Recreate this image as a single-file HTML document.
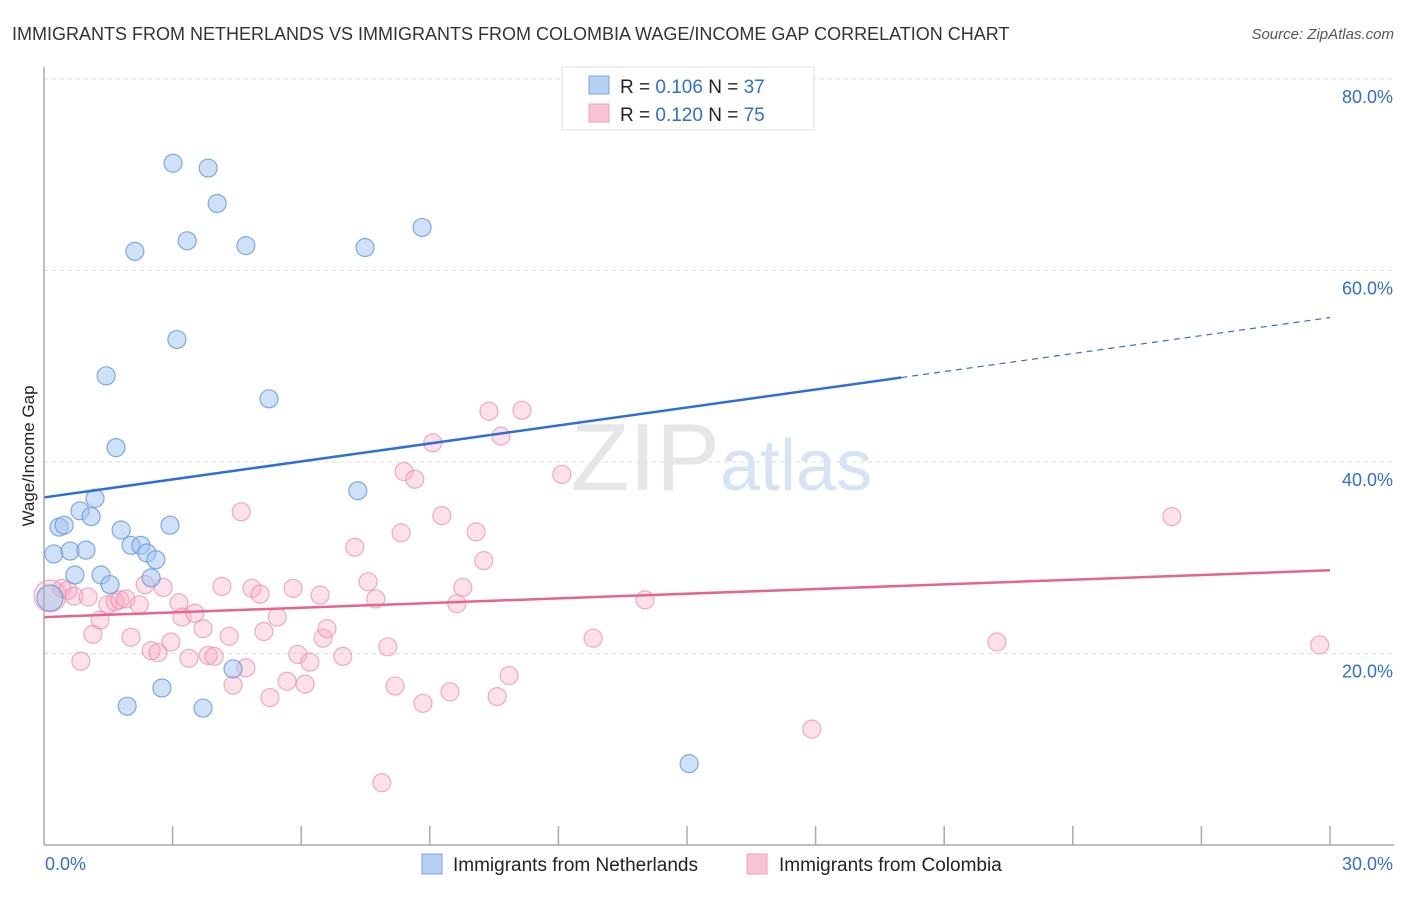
<!DOCTYPE html>
<html><head><meta charset="utf-8"><style>
body{margin:0;background:#fff;font-family:"Liberation Sans",sans-serif;}
svg text{font-family:"Liberation Sans",sans-serif;}
</style></head><body>
<svg id="chart" width="1406" height="892" xmlns="http://www.w3.org/2000/svg">
<text x="12" y="40" font-size="18" fill="#333">IMMIGRANTS FROM NETHERLANDS VS IMMIGRANTS FROM COLOMBIA WAGE/INCOME GAP CORRELATION CHART</text>
<text x="1394" y="39" font-size="15" fill="#555" text-anchor="end" font-style="italic">Source: ZipAtlas.com</text>
<g id="grid"></g>
<text x="720" y="490" font-size="96" fill="#e6e6e6" text-anchor="end" font-family="Liberation Serif">ZIP</text>
<text x="720" y="490" font-size="72" fill="#d5e3f5">atlas</text>
<g id="pts"></g>
<g id="lines"></g>
<g id="axes"></g>
<text transform="translate(34,456) rotate(-90)" font-size="17" fill="#222" text-anchor="middle">Wage/Income Gap</text>
<g>
<rect x="562" y="67" width="252" height="63" fill="#fff" stroke="#ddd"/>
<rect x="589" y="76" width="20" height="18" fill="#b6d1f5" stroke="#7aa6e0"/>
<rect x="589" y="104" width="20" height="18" fill="#f8c4d4" stroke="#f0a0b8"/>
<text x="620" y="93" font-size="19" fill="#222">R = <tspan fill="#2e6fd6">0.106</tspan>   N = <tspan fill="#2e6fd6">37</tspan></text>
<text x="620" y="121" font-size="19" fill="#222">R = <tspan fill="#2e6fd6">0.120</tspan>   N = <tspan fill="#2e6fd6">75</tspan></text>
</g>
<g>
<rect x="422" y="854" width="20" height="20" fill="#b6d1f5" stroke="#7aa6e0"/>
<text x="453" y="871" font-size="19" fill="#222">Immigrants from Netherlands</text>
<rect x="747" y="854" width="20" height="20" fill="#f8c4d4" stroke="#f0a0b8"/>
<text x="779" y="871" font-size="19" fill="#222">Immigrants from Colombia</text>
</g>
</svg>
<script>
const blueX=[3.01,3.83,4.04,2.12,3.34,4.71,7.49,8.82,3.10,1.45,5.25,1.68,7.32,1.19,0.84,1.10,0.35,0.47,1.80,2.94,0.23,0.61,0.98,2.03,2.26,2.40,2.61,0.72,1.33,1.54,2.50,0.14,4.41,2.75,1.94,3.71,15.05];
const blueY=[71.2,70.7,67.0,62.0,63.1,62.6,62.4,64.5,52.8,49.0,46.6,41.5,37.0,36.2,34.9,34.3,33.2,33.4,32.9,33.4,30.4,30.7,30.8,31.3,31.3,30.5,29.8,28.2,28.2,27.2,27.9,25.8,18.4,16.4,14.5,14.3,8.5];
const pinkX=[0.14,0.42,0.56,0.70,1.03,1.14,0.86,1.31,1.49,1.66,1.77,1.91,2.22,2.36,2.03,2.50,2.66,2.78,2.96,3.15,3.22,3.38,3.52,3.71,3.83,3.97,4.15,4.32,4.41,4.60,4.71,4.85,5.04,5.13,5.27,5.44,5.67,5.81,5.92,6.09,6.20,6.44,6.51,6.60,6.97,7.25,7.56,7.74,8.02,8.19,8.33,8.40,8.65,8.84,9.07,9.28,9.47,9.63,9.77,10.08,10.26,10.38,10.57,10.66,10.85,11.15,12.08,12.81,14.02,17.91,22.23,26.31,29.76,7.88];
const pinkY=[26.0,26.8,26.6,26.0,25.9,22.0,19.2,23.5,25.1,25.4,25.6,25.7,25.1,27.2,21.7,20.3,20.1,26.9,21.2,25.3,23.8,19.5,24.2,22.6,19.8,19.7,27.0,21.8,16.7,34.8,18.5,26.8,26.2,22.3,15.4,23.8,17.1,26.8,19.9,16.8,19.1,26.1,21.6,22.6,19.7,31.1,27.5,25.7,20.7,16.6,32.6,39.0,38.2,14.8,42.0,34.4,16.0,25.2,26.9,32.7,29.7,45.3,15.5,42.7,17.7,45.4,38.7,21.6,25.6,12.1,21.2,34.3,20.9,6.5];
const yTicks=[20,40,60,80];
const yTickLabels=["20.0%","40.0%","60.0%","80.0%"];
const xTickVals=[0,3,6,9,12,15,18,21,24,27,30];
const blueTrend=[36.3,0.626]; // intercept, slope
const pinkTrend=[23.8,0.163];
const blueSolidEnd=20;

const X0=44,X1=1330,Y0=845,Y1=79;
const sx=v=>X0+(v/30)*(X1-X0);
const sy=v=>Y0-(v/80)*(Y0-Y1);
const NS="http://www.w3.org/2000/svg";
function mk(tag,attrs,parent){const e=document.createElementNS(NS,tag);for(const k in attrs)e.setAttribute(k,attrs[k]);parent.appendChild(e);return e;}
const grid=document.getElementById('grid'),axes=document.getElementById('axes'),pts=document.getElementById('pts'),lines=document.getElementById('lines');
yTicks.forEach((t,i)=>{
 const l=mk('line',{x1:X0,x2:1394,y1:sy(t),y2:sy(t),stroke:'#ddd','stroke-dasharray':'4,4'},grid);
 
 
 const tx=mk('text',{x:1393,y:sy(t)+24,'font-size':18,fill:'#2e6fd6','text-anchor':'end'},axes);
 tx.textContent=yTickLabels[i];
 
 
});
mk('line',{x1:X0,x2:X0,y1:67,y2:Y0,stroke:'#aaa','stroke-width':1.5},axes);
mk('line',{x1:X0,x2:1394,y1:Y0,y2:Y0,stroke:'#aaa','stroke-width':1.5},axes);
xTickVals.forEach(t=>{
 if(t===0)return;
 const l=mk('line',{x1:sx(t),x2:sx(t),y1:Y0,y2:Y0-19,stroke:'#aaa','stroke-width':1.5},axes);
 
 
});
const xl0=mk('text',{x:45,y:870,'font-size':18,fill:'#2e6fd6'},axes);xl0.textContent="0.0%";


const xl1=mk('text',{x:1393,y:870,'font-size':18,fill:'#2e6fd6','text-anchor':'end'},axes);xl1.textContent="30.0%";



pinkX.forEach((x,i)=>{
 const c=mk('circle',{cx:sx(x),cy:sy(pinkY[i]),r:i===0?16:9,fill:'rgba(245,170,195,0.35)',stroke:'rgba(236,140,170,0.7)','stroke-width':1.2},pts);
 
 
});
blueX.forEach((x,i)=>{
 const c=mk('circle',{cx:sx(x),cy:sy(blueY[i]),r:i===31?13:9,fill:'rgba(160,196,240,0.5)',stroke:'rgba(100,150,220,0.8)','stroke-width':1.2},pts);
 
 
});
const bf=x=>blueTrend[0]+blueTrend[1]*x, pf=x=>pinkTrend[0]+pinkTrend[1]*x;
const b1=mk('line',{x1:sx(0),y1:sy(bf(0)),x2:sx(blueSolidEnd),y2:sy(bf(blueSolidEnd)),stroke:'#2e6fd6','stroke-width':2.5},lines);


const b2=mk('line',{x1:sx(blueSolidEnd),y1:sy(bf(blueSolidEnd)),x2:sx(30),y2:sy(bf(30)),stroke:'#2e6fd6','stroke-width':1.2,'stroke-dasharray':'6,5'},lines);


const p1=mk('line',{x1:sx(0),y1:sy(pf(0)),x2:sx(30),y2:sy(pf(30)),stroke:'#e8638e','stroke-width':2.5},lines);


</script>
</body></html>
